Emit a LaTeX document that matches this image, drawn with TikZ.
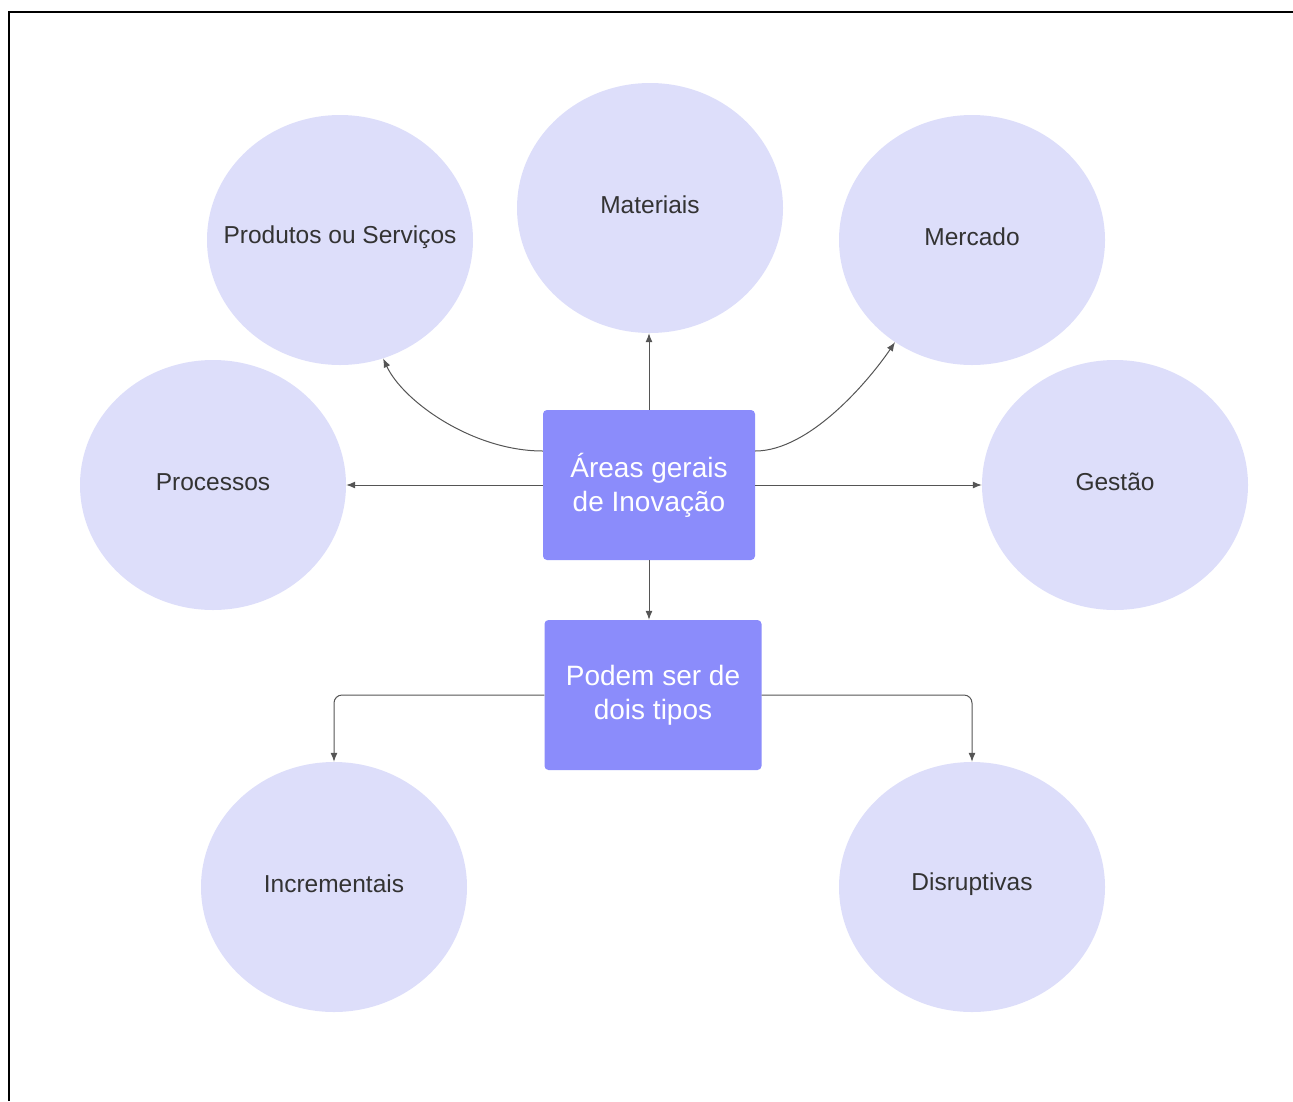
\documentclass[tikz,border=0pt]{standalone}
\usepackage{fontspec}
\setmainfont{Liberation Sans}
\usetikzlibrary{shapes.geometric,arrows.meta}
\definecolor{circfill}{HTML}{DDDEFA}
\definecolor{boxfill}{HTML}{8B8CFB}
\definecolor{txtc}{HTML}{333333}
\definecolor{linc}{HTML}{555555}
\begin{document}
\begin{tikzpicture}[x=1pt,y=-1pt,
  circnode/.style={ellipse,fill=circfill,minimum width=266pt,minimum height=250pt,inner sep=0pt,
    label={[text=txtc,font=\fontsize{24.5}{29}\selectfont,yshift=3pt]center:#1}},
  boxnode/.style={rectangle,rounded corners=4pt,fill=boxfill,text=white,align=center,font=\fontsize{28}{34}\selectfont,inner sep=0pt},
  conn/.style={draw=linc,line width=1pt,-{Latex[length=9pt,width=7pt]}}]
\useasboundingbox (0,0) rectangle (1293,1101);
\draw[line width=2.5pt] (9,1101) -- (9,12) -- (1293,12);

\node[circnode={Produtos ou Serviços}] (prod) at (340,240) {};
\node[circnode={Materiais}] (mat) at (650,208) {};
\node[circnode={Mercado}] (merc) at (972,240) {};
\node[circnode={Processos}] (proc) at (213,485) {};
\node[circnode={Gestão}] (gest) at (1115,485) {};
\node[circnode={Incrementais}] (inc) at (334,887) {};
\node[circnode={Disruptivas}] (dis) at (972,887) {};

\node[boxnode,minimum width=212pt,minimum height=150pt] (b1) at (649,485) {Áreas gerais\\de Inovação};
\node[boxnode,minimum width=217pt,minimum height=150pt] (b2) at (653,695) {Podem ser de\\dois tipos};

\draw[conn] (b1.north) -- (b1.north |- mat.south);
\draw[conn] (b1.west) -- (proc.east);
\draw[conn] (b1.east) -- (gest.west);
\draw[conn] ([yshift=34pt]b1.west) .. controls +(-70,0) and +(20,43) .. (prod.-70);
\draw[conn] ([yshift=34pt]b1.east) .. controls +(55,0) and +(-25,37) .. (merc.-127);
\draw[conn] (b1.south) -- (b1.south |- b2.north);
\draw[conn,rounded corners=8pt] (b2.west) -| (inc.north);
\draw[conn,rounded corners=8pt] (b2.east) -| (dis.north);
\end{tikzpicture}
\end{document}
